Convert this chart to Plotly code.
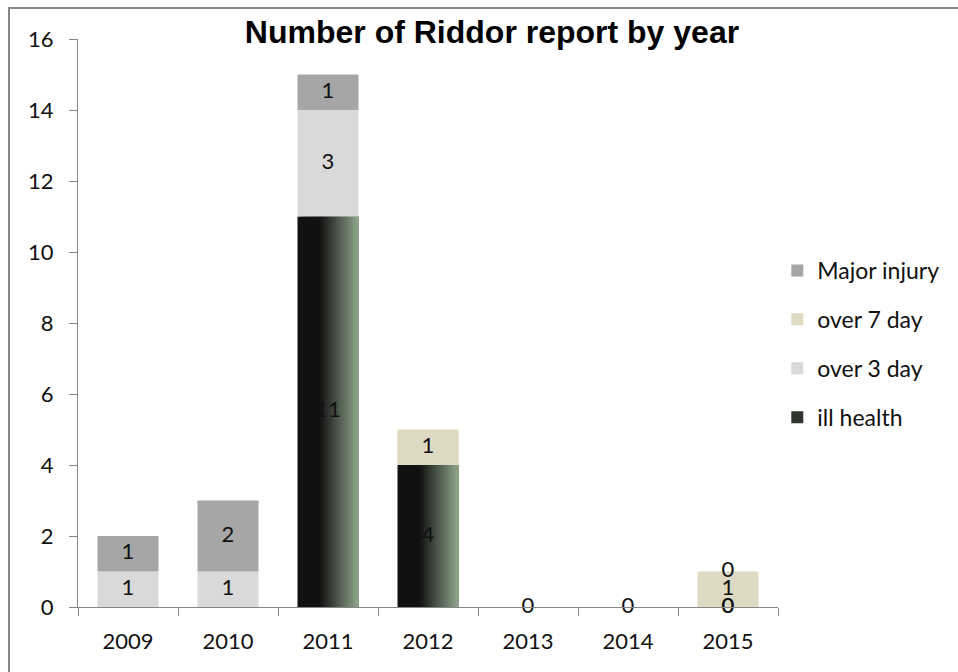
import plotly.graph_objects as go

years = ["2009", "2010", "2011", "2012", "2013", "2014", "2015"]
ill_health = [None, None, 11, 4, 0, 0, 0]
over_3_day = [1, 1, 3, None, None, None, 0]
over_7_day = [None, None, None, 1, None, None, 1]
major_injury = [1, 2, 1, None, None, None, 0]

series = [
    ("ill health", ill_health, None),
    ("over 3 day", over_3_day, "#d9d9d9"),
    ("over 7 day", over_7_day, "#ddd9c3"),
    ("Major injury", major_injury, "#a6a6a6"),
]

FONT = "Lato, Carlito, Calibri, sans-serif"
BAR_W = 0.61
N_SLICES = 30

def lerp(c1, c2, t):
    return "#%02x%02x%02x" % tuple(int(round(a + (b - a) * t)) for a, b in zip(c1, c2))

def grad_color(t):
    dark = (17, 17, 17)
    light = (143, 167, 140)
    if t < 0.36:
        return "#111111"
    return lerp(dark, light, (t - 0.36) / 0.64)

fig = go.Figure()
base = [0.0] * len(years)
label_x, label_y, label_t = [], [], []
rank = {"Major injury": 1, "over 7 day": 2, "over 3 day": 3, "ill health": 4}

for name, vals, color in series:
    v = [0 if x is None else x for x in vals]
    if color is None:
        sw = BAR_W / N_SLICES
        for i in range(N_SLICES):
            t = (i + 0.5) / N_SLICES
            fig.add_trace(go.Bar(
                x=years, y=v, base=base[:], width=BAR_W - i * sw,
                offset=-BAR_W / 2 + i * sw,
                marker=dict(color=grad_color(t), line=dict(width=0)),
                name=name, legendgroup=name, legendrank=rank[name],
                showlegend=(i == N_SLICES // 2), hoverinfo="skip",
            ))
    else:
        fig.add_trace(go.Bar(
            x=years, y=v, base=base[:], width=BAR_W,
            marker=dict(color=color, line=dict(width=0)),
            name=name, legendgroup=name, legendrank=rank[name],
        ))
    for j, x in enumerate(vals):
        if x is not None:
            label_x.append(years[j])
            label_y.append(base[j] + x / 2)
            label_t.append(str(x))
    base = [b + a for b, a in zip(base, v)]

fig.add_trace(go.Scatter(
    x=label_x, y=label_y, text=label_t, mode="text",
    textfont=dict(family=FONT, size=22, color="#111111"),
    showlegend=False, hoverinfo="skip", cliponaxis=False,
))

fig.update_layout(
    width=958, height=672,
    barmode="overlay",
    paper_bgcolor="white", plot_bgcolor="white",
    margin=dict(l=78, r=180, t=39, b=65),
    title=dict(text="<b>Number of Riddor report by year</b>",
               font=dict(family="Liberation Sans, Arial, sans-serif", size=32, color="black"),
               x=492 / 958, xanchor="center", xref="container", y=1 - 32 / 672, yanchor="middle", yref="container"),
    legend=dict(x=0.999, y=0.463, yanchor="middle", xanchor="left",
                font=dict(family=FONT, size=23, color="#111111"),
                tracegroupgap=16, itemwidth=30),
    showlegend=True,
    font=dict(family=FONT, size=22, color="#111111"),
    shapes=[dict(type="rect", xref="paper", yref="paper",
                 x0=(9 - 78) / 700, x1=(1020 - 78) / 700,
                 y0=(607 - 720) / 568, y1=(607 - 8) / 568,
                 line=dict(color="#868686", width=2), fillcolor="rgba(0,0,0,0)", layer="below")],
)
fig.update_xaxes(type="category", showline=True, linecolor="#868686", linewidth=1,
                 ticks="outside", tickson="boundaries", ticklen=8, tickcolor="#868686",
                 showgrid=False, tickfont=dict(family=FONT, size=22, color="#111111"),
                 ticklabelstandoff=15, automargin=False)
fig.update_yaxes(range=[0, 16], dtick=2, showline=True, linecolor="#868686", linewidth=1,
                 ticks="outside", ticklen=8, tickcolor="#868686", showgrid=False,
                 zeroline=False, tickfont=dict(family=FONT, size=22, color="#111111"),
                 ticklabelstandoff=11, automargin=False)
fig.write_html("out.html", config={"displayModeBar": False},
               post_script="document.body.style.margin='0px';")
